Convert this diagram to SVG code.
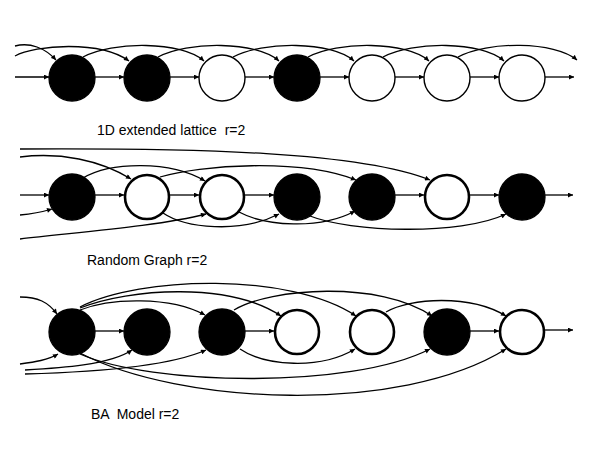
<svg xmlns="http://www.w3.org/2000/svg" width="599" height="450" viewBox="0 0 599 450">
<style>
.bk{fill:#000;stroke:#000;stroke-width:1.3}
.wt{fill:#fff;stroke:#000;stroke-width:1.4}
.wt2{fill:#fff;stroke:#000;stroke-width:2.6}
.e{fill:none;stroke:#000;stroke-width:1.3;marker-end:url(#ah)}
.lbl{font-family:"Liberation Sans",Arial,sans-serif;font-size:14px;fill:#000;white-space:pre}
</style>
<defs>
<marker id="ah" viewBox="0 0 6 6" refX="6" refY="3" markerWidth="6" markerHeight="5" markerUnits="userSpaceOnUse" orient="auto">
<path d="M0,0 L6,3 L0,6 z" fill="#000"/>
</marker>
</defs>
<rect width="599" height="450" fill="#fff"/>

<!-- Row 1: 1D extended lattice -->
<g id="r1n1"><circle class="bk" cx="72" cy="78" r="23"/></g>
<g id="r1n2"><circle class="bk" cx="147" cy="78" r="23"/></g>
<g id="r1n3"><circle class="wt" cx="222" cy="78" r="23"/></g>
<g id="r1n4"><circle class="bk" cx="297" cy="78" r="23"/></g>
<g id="r1n5"><circle class="wt" cx="372" cy="78" r="23"/></g>
<g id="r1n6"><circle class="wt" cx="447" cy="78" r="23"/></g>
<g id="r1n7"><circle class="wt" cx="522" cy="78" r="23"/></g>

<!-- Row 2: Random graph -->
<g id="r2n1"><circle class="bk" cx="72" cy="197" r="23"/></g>
<g id="r2n2"><circle class="wt2" cx="147" cy="197" r="22"/></g>
<g id="r2n3"><circle class="wt2" cx="222" cy="197" r="22"/></g>
<g id="r2n4"><circle class="bk" cx="297" cy="197" r="23"/></g>
<g id="r2n5"><circle class="bk" cx="372" cy="197" r="23"/></g>
<g id="r2n6"><circle class="wt2" cx="447" cy="197" r="22"/></g>
<g id="r2n7"><circle class="bk" cx="522" cy="197" r="23"/></g>

<!-- Row 3: BA model -->
<g id="r3n1"><circle class="bk" cx="72" cy="332" r="23"/></g>
<g id="r3n2"><circle class="bk" cx="147" cy="332" r="23"/></g>
<g id="r3n3"><circle class="bk" cx="222" cy="332" r="23"/></g>
<g id="r3n4"><circle class="wt2" cx="297" cy="332" r="22"/></g>
<g id="r3n5"><circle class="wt2" cx="372" cy="332" r="22"/></g>
<g id="r3n6"><circle class="bk" cx="447" cy="332" r="23"/></g>
<g id="r3n7"><circle class="wt2" cx="522" cy="332" r="22"/></g>

<g id="connectors">
<!-- Row 1 horizontal -->
<path class="e" d="M15 77 H49"/>
<path class="e" d="M95 77 H124"/>
<path class="e" d="M170 77 H199"/>
<path class="e" d="M245 77 H274"/>
<path class="e" d="M320 77 H349"/>
<path class="e" d="M395 77 H424"/>
<path class="e" d="M470 77 H499"/>
<path class="e" d="M545 77 H574"/>
<!-- Row 1 skip arcs -->
<path class="e" d="M15 46 C30 42 45 48 56 60"/>
<path class="e" d="M15 56 C35 45 100 40 129 61"/>
<path class="e" d="M83 57 C112 41 182 41 204 61"/>
<path class="e" d="M158 57 C187 41 257 41 279 61"/>
<path class="e" d="M233 57 C262 41 332 41 354 61"/>
<path class="e" d="M308 57 C337 41 407 41 429 61"/>
<path class="e" d="M383 57 C412 41 482 41 504 61"/>
<path class="e" d="M458 57 C487 41 555 41 577 60"/>

<!-- Row 2 horizontal -->
<path class="e" d="M20 195 H49"/>
<path class="e" d="M95 195 H124"/>
<path class="e" d="M170 195 H199"/>
<path class="e" d="M245 195 H274"/>
<path class="e" d="M395 195 H424"/>
<path class="e" d="M470 195 H499"/>
<path class="e" d="M545 195 H573"/>
<!-- Row 2 upper curves -->
<path class="e" d="M20 149 C200 148 360 152 430 180"/>
<path class="e" d="M20 157 C60 152 100 160 131 179"/>
<path class="e" d="M83 178 C110 162 170 160 205 181"/>
<path class="e" d="M160 177 C200 165 300 158 356 180"/>
<!-- Row 2 lower curves -->
<path class="e" d="M20 215 C32 214 42 212 52 209"/>
<path class="e" d="M20 239 C80 232 160 226 206 214"/>
<path class="e" d="M163 213 C185 228 240 234 279 214"/>
<path class="e" d="M239 212 C265 226 320 230 355 211"/>
<path class="e" d="M310 216 C350 232 460 236 506 214"/>

<!-- Row 3 horizontal -->
<path class="e" d="M95 331 H124"/>
<path class="e" d="M245 331 H274"/>
<path class="e" d="M470 331 H499"/>
<path class="e" d="M545 330 H573"/>
<!-- Row 3 upper curves -->
<path class="e" d="M20 297 C38 297 48 302 57 314"/>
<path class="e" d="M80 310 C110 298 170 296 205 315"/>
<path class="e" d="M80 308 C130 288 230 282 281 316"/>
<path class="e" d="M80 307 C140 276 290 272 356 316"/>
<path class="e" d="M234 310 C270 288 380 280 432 316"/>
<path class="e" d="M386 312 C410 298 470 294 506 316"/>
<!-- Row 3 lower curves -->
<path class="e" d="M20 364 C35 362 48 360 58 354"/>
<path class="e" d="M25 370 C60 368 110 365 132 350"/>
<path class="e" d="M25 374 C100 372 170 366 206 350"/>
<path class="e" d="M240 349 C265 366 320 370 355 349"/>
<path class="e" d="M80 354 C150 385 350 390 430 349"/>
<path class="e" d="M80 353 C180 405 400 415 506 349"/>
</g>

<g id="labels">
<text class="lbl" x="97" y="135">1D extended lattice  r=2</text>
<text class="lbl" x="87" y="265">Random Graph r=2</text>
<text class="lbl" x="91" y="419">BA  Model r=2</text>
</g>
</svg>
